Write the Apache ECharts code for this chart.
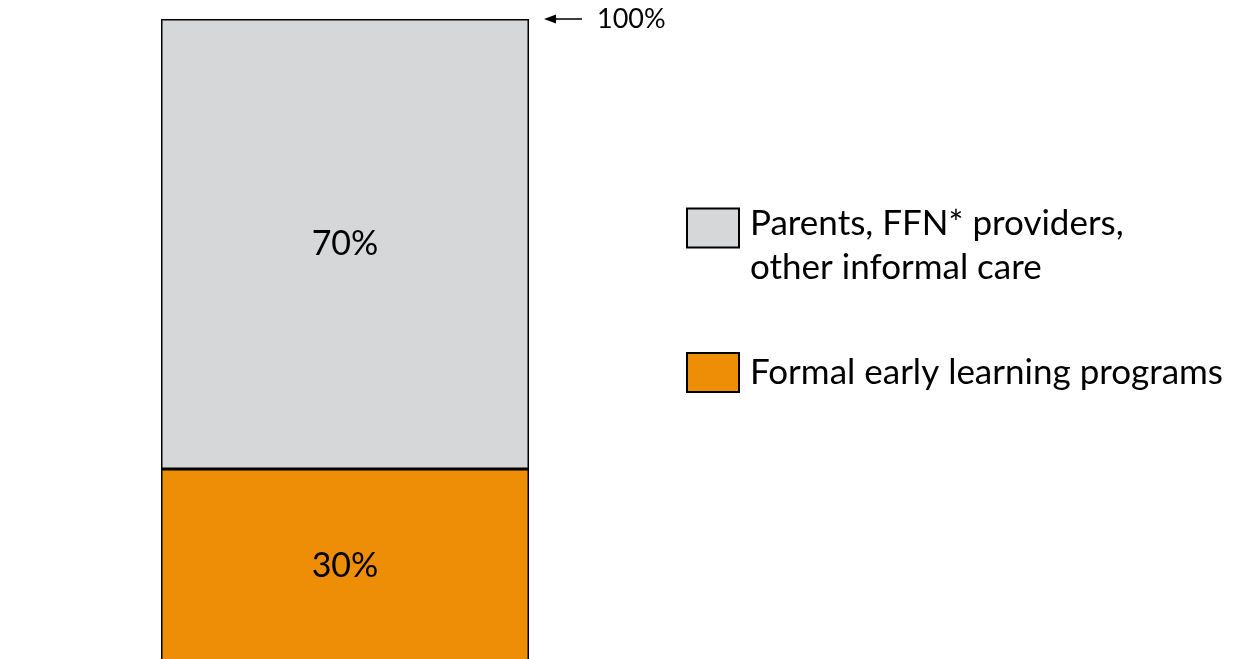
<!DOCTYPE html>
<html>
<head>
<meta charset="utf-8">
<script src="https://cdn.jsdelivr.net/npm/echarts@6/dist/echarts.min.js"></script>
<style>
  html, body { margin: 0; padding: 0; background: #fff; }
  #chart { width: 1233px; height: 659px; }
</style>
</head>
<body>
<div id="chart"></div>
<script>
// data
var categories = ['Children'];
var formalValues = [30];
var informalValues = [70];
var seriesNames = ['Parents, FFN* providers,\nother informal care', 'Formal early learning programs'];
var totalLabel = '100%';

var FONT = 'Lato';

var chart = echarts.init(document.getElementById('chart'));

// legend text sits with its first line next to the icon
function legendText(name) {
  return '{s| }\n' + name.split('\n').map(function (l) { return '{t|' + l + '}'; }).join('\n');
}

var option = {
  animation: false,
  grid: {
    left: 161,
    top: 19,
    width: 368,
    height: 643,
    outerBoundsMode: 'none'
  },
  xAxis: {
    type: 'category',
    data: categories,
    show: false
  },
  yAxis: {
    type: 'value',
    min: 0,
    max: 100,
    show: false
  },
  legend: [
    {
      data: [seriesNames[0]],
      left: 686,
      top: 179,
      padding: 0,
      icon: 'rect',
      itemWidth: 52,
      itemHeight: 39,
      selectedMode: false,
      formatter: legendText,
      textStyle: {
        fontFamily: FONT,
        fontSize: 35,
        color: '#000',
        padding: [0, 0, 0, 6],
        rich: {
          s: { fontSize: 10, lineHeight: 36 },
          t: { fontFamily: FONT, fontSize: 35, lineHeight: 44, color: '#000' }
        }
      }
    },
    {
      data: [seriesNames[1]],
      left: 686,
      top: 350,
      padding: 0,
      icon: 'rect',
      itemWidth: 52,
      itemHeight: 39,
      selectedMode: false,
      textStyle: {
        fontFamily: FONT,
        fontSize: 35,
        lineHeight: 39,
        color: '#000',
        padding: [6, 0, 0, 6]
      }
    }
  ],
  series: [
    {
      name: seriesNames[1],
      type: 'bar',
      stack: 'total',
      barWidth: '100%',
      data: formalValues,
      itemStyle: { color: '#EE8E06', borderColor: '#000', borderWidth: 1.5 },
      label: {
        show: true,
        position: 'inside',
        formatter: '{c}%',
        fontFamily: FONT,
        fontSize: 34,
        color: '#000'
      }
    },
    {
      name: seriesNames[0],
      type: 'bar',
      stack: 'total',
      barWidth: '100%',
      data: informalValues,
      itemStyle: { color: '#D6D7D9', borderColor: '#000', borderWidth: 1.5 },
      label: {
        show: true,
        position: 'inside',
        formatter: '{c}%',
        fontFamily: FONT,
        fontSize: 34,
        color: '#000'
      },
      markPoint: {
        silent: true,
        symbol: 'path://M0,4.5 L12,0 L12,3.8 L38,3.8 L38,5.2 L12,5.2 L12,9 Z',
        symbolSize: [38, 9],
        symbolOffset: [218, 0],
        itemStyle: { color: '#000', borderWidth: 0 },
        label: {
          show: true,
          position: 'right',
          distance: 15,
          formatter: totalLabel,
          fontFamily: FONT,
          fontSize: 27,
          color: '#000'
        },
        data: [{ coord: [categories[0], 100] }]
      }
    }
  ]
};

chart.setOption(option);
</script>
</body>
</html>
